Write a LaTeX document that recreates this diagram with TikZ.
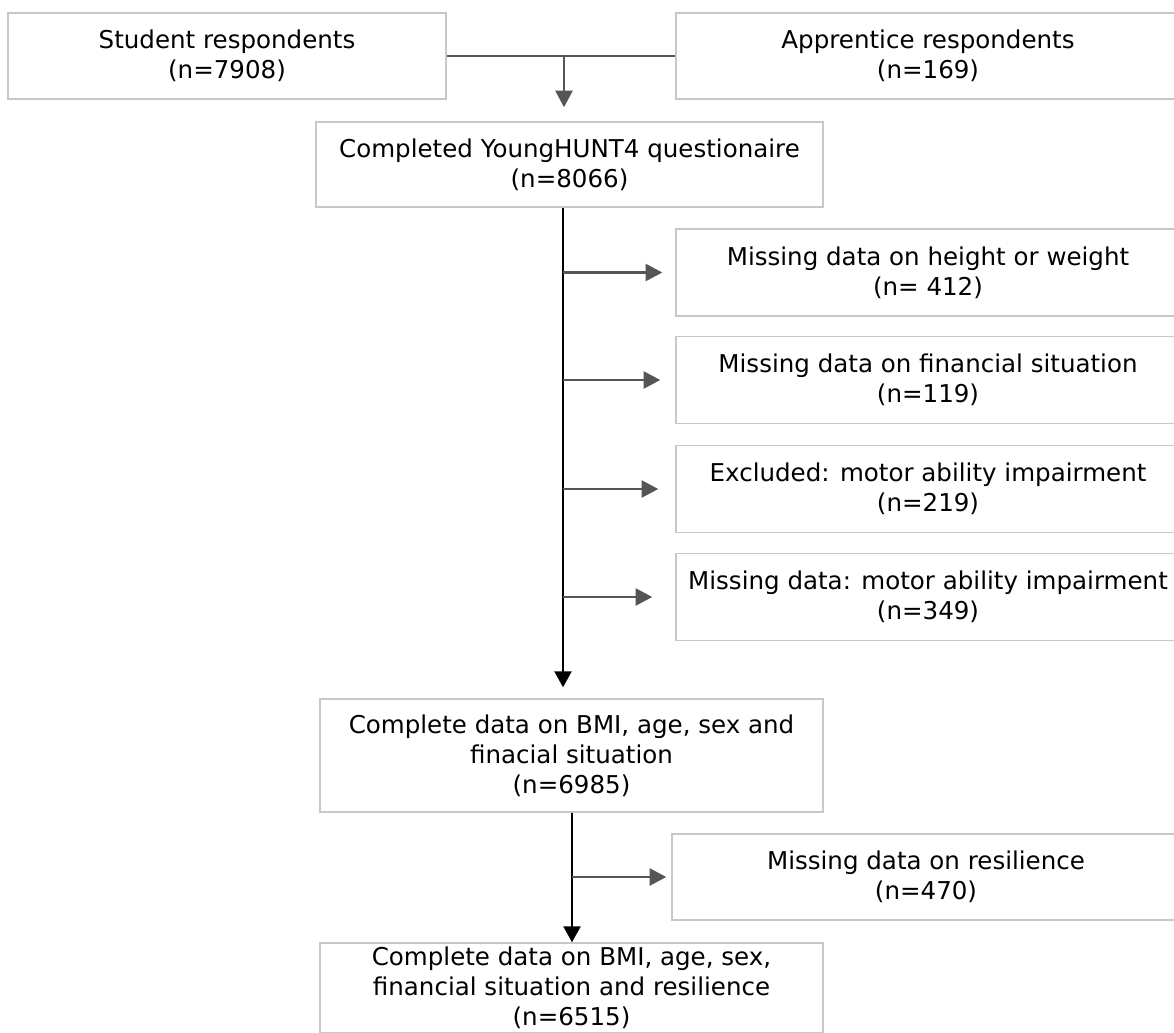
\documentclass[tikz,border=0pt]{standalone}
\usepackage{fontspec}
\setmainfont{DejaVu Sans}
\usetikzlibrary{arrows.meta}

\definecolor{boxgray}{HTML}{C8C8C8}
\definecolor{arrgray}{HTML}{555555}

\begin{document}
\begin{tikzpicture}[x=0.75pt,y=-0.75pt,
    box/.style={draw=boxgray,line width=1.1pt,align=center,inner sep=0pt,
        font=\fontsize{18.4}{22.5}\selectfont},
    grayline/.style={draw=arrgray,line width=1.9pt},
    grayarrow/.style={grayline,-{Triangle[length=12.5pt,width=12.75pt]}},
    mainarrow/.style={line width=1.9pt,-{Triangle[length=12pt,width=12.75pt]}}]

    \useasboundingbox (0,0) rectangle (1174,1032);

    % flow chart
    % nodes
    \node[box,minimum width=328.5pt,minimum height=64.5pt] (stud) at (227,56) {Student respondents\\(n=7908)};
    \node[box,minimum width=378pt,minimum height=64.5pt] (appr) at (928,56) {Apprentice respondents\\(n=169)};
    \node[box,minimum width=380.25pt,minimum height=63.75pt] (compl) at (569.5,164.5) {Completed YoungHUNT4 questionaire\\(n=8066)};
    \node[box,minimum width=378pt,minimum height=65.25pt] (miss1) at (928,272.5) {Missing data on height or weight\\(n= 412)};
    \node[box,minimum width=378pt,minimum height=65.25pt] (miss2) at (928,380) {Missing data on financial situation\\(n=119)};
    \node[box,minimum width=378pt,minimum height=65.25pt] (miss3) at (928,489) {Excluded: motor ability impairment\\(n=219)};
    \node[box,minimum width=378pt,minimum height=65.25pt] (miss4) at (928,597) {Missing data: motor ability impairment\\(n=349)};
    \node[box,minimum width=377.25pt,minimum height=84.75pt] (bmi) at (571.5,755.5) {Complete data on BMI, age, sex and\\finacial situation\\(n=6985)};
    \node[box,minimum width=381pt,minimum height=64.5pt] (resil) at (926,877) {Missing data on resilience\\(n=470)};
    \node[box,minimum width=377.25pt,minimum height=67.5pt] (final) at (571.5,988) {Complete data on BMI, age, sex,\\financial situation and resilience\\(n=6515)};

    % trunks
    \coordinate (trunkA) at (563,0);
    \coordinate (trunkB) at (572,0);
    \coordinate (join) at (564,56);

    % paths
    \draw[grayline] (stud) -- (appr); % stud -- appr
    \draw[grayarrow,shorten >=10.5pt] (join) -- (join |- compl.north); % join -> compl
    \draw[mainarrow,shorten >=8.25pt] (compl.south -| trunkA) -- (bmi.north -| trunkA); % compl -> bmi
    \draw[grayarrow,shorten >=9.75pt] (trunkA |- miss1) -- (miss1.west); % trunk -> miss1
    \draw[grayarrow,shorten >=11.25pt] (trunkA |- miss2) -- (miss2.west); % trunk -> miss2
    \draw[grayarrow,shorten >=12.75pt] (trunkA |- miss3) -- (miss3.west); % trunk -> miss3
    \draw[grayarrow,shorten >=17.25pt] (trunkA |- miss4) -- (miss4.west); % trunk -> miss4
    \draw[mainarrow] (bmi.south -| trunkB) -- (final.north -| trunkB); % bmi -> final
    \draw[grayarrow,shorten >=3.75pt] (trunkB |- resil) -- (resil.west); % trunk -> resil

\end{tikzpicture}
\end{document}
